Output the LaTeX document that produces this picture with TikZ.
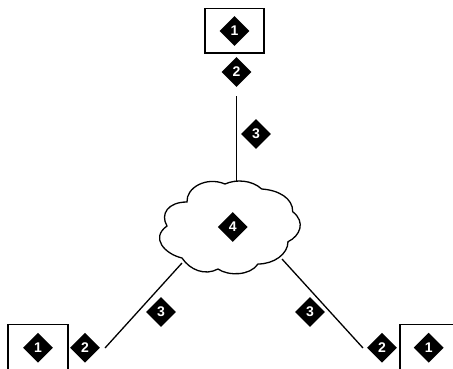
\documentclass[tikz,border=0pt]{standalone}
\usepackage{fontspec}
\setmainfont{Liberation Sans}
\usetikzlibrary{shapes.geometric}
\tikzset{
  badge/.style={diamond,fill=black,text=white,inner sep=0pt,minimum width=30pt,minimum height=30pt,font=\bfseries\fontsize{14}{14}\selectfont},
  boxed/.style={draw=black,line width=1.5pt,inner sep=0pt},
  wire/.style={draw=black,line width=1.3pt}
}
\begin{document}
\begin{tikzpicture}[x=1pt,y=-1pt]
\useasboundingbox (0,0) rectangle (453,368);
\clip (0,0) rectangle (453,368);
\node[boxed,minimum width=59pt,minimum height=44.5pt] (topbox) at (234.5,30.5) {};
\node[boxed,minimum width=60pt,minimum height=60pt] (leftbox) at (38,354.5) {};
\node[boxed,minimum width=70pt,minimum height=60pt] (rightbox) at (435,354.5) {};
\draw[draw=black,line width=1.3pt,fill=white]
  (225,184) .. controls (236,179) and (252,180) .. (261.7,189)
  .. controls (278,190) and (293,198) .. (292.7,211.7)
  .. controls (306,222) and (300,236) .. (288,241.7)
  .. controls (288,254) and (274,264) .. (258,264)
  .. controls (250,276) and (228,276) .. (218,269)
  .. controls (205,276) and (190,270) .. (182,258)
  .. controls (165,254) and (150,238) .. (167,226)
  .. controls (160,214) and (168,202) .. (187,202)
  .. controls (186,188) and (206,176) .. (225,184) -- cycle;
\node[badge] (t1) at (234.5,31) {1};
\node[badge] (t2) at (236.5,72) {2};
\node[badge] (t3) at (256,134) {3};
\node[badge] (c4) at (232.7,227) {4};
\node[badge] (l1) at (38,347.7) {1};
\node[badge] (l2) at (85,347.7) {2};
\node[badge] (l3) at (161,312) {3};
\node[badge] (r1) at (428.7,347.7) {1};
\node[badge] (r2) at (382,347.7) {2};
\node[badge] (r3) at (310,312) {3};
\coordinate (topA) at (236.5,96);
\coordinate (topB) at (236.5,181);
\coordinate (leftA) at (105,348);
\coordinate (leftB) at (182,263);
\coordinate (rightA) at (363,348);
\coordinate (rightB) at (282,259);
\draw[wire] (topA) -- (topB);
\draw[wire] (leftA) -- (leftB);
\draw[wire] (rightA) -- (rightB);
\end{tikzpicture}
\end{document}
